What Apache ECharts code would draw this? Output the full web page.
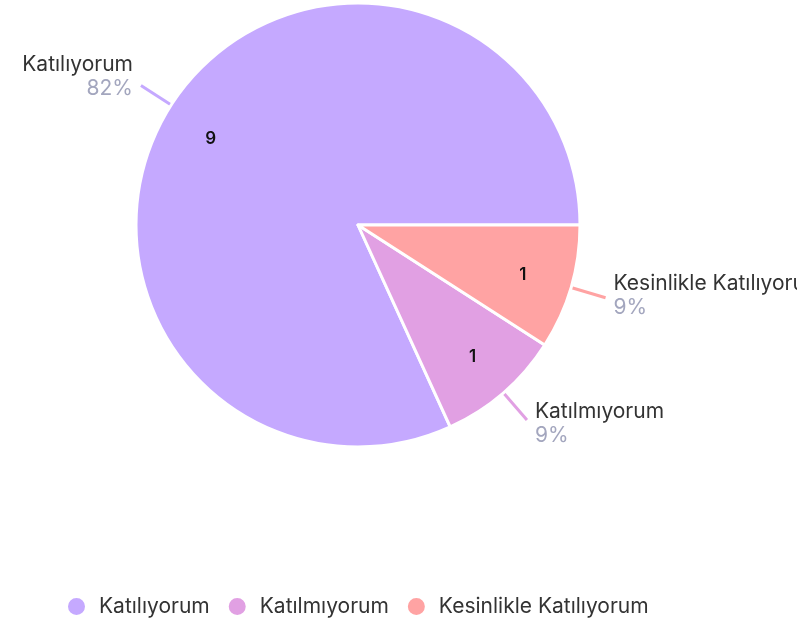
<!DOCTYPE html>
<html><head><meta charset="utf-8">
<script src="https://cdn.jsdelivr.net/npm/echarts@6/dist/echarts.min.js"></script>
<style>html,body{margin:0;padding:0;background:#fff;overflow:hidden}#c{width:797px;height:626px;overflow:hidden}</style>
</head><body><div id="c"></div>
<script>
const categories = ['Katılıyorum', 'Katılmıyorum', 'Kesinlikle Katılıyorum'];
const values = [9, 1, 1];
const colors = ['#C5A9FF', '#E1A0E3', '#FFA3A3'];

const chart = echarts.init(document.getElementById('c'), null, {renderer: 'canvas'});
const labelPads = [[0, 0, 18, 0], [8, 0, 0, 0], [0, 0, 4, 0]];
const innerOffsets = [[0, 9], [0, 0], [-3, 1]];
const data = categories.map((n, i) => ({name: n, value: values[i], itemStyle: {color: colors[i]}, label: {padding: labelPads[i]}}));
const font = 'Inter, "Open Sans", sans-serif';
chart.setOption({
  animation: false,
  legend: {
    bottom: 4, left: 61,
    icon: 'circle', itemWidth: 19, itemHeight: 19, itemGap: 17,
    textStyle: {fontFamily: font, fontSize: 21, color: '#333', padding: [0, 0, 0, 8]},
    data: categories
  },
  series: [
    {
      type: 'pie', center: [358, 225], radius: [0, 222],
      startAngle: 0, clockwise: false,
      itemStyle: {borderColor: '#fff', borderWidth: 3},
      label: {
        show: true, position: 'outside', overflow: 'none',
        formatter: p => '{n|' + p.name + '}\n{p|' + Math.round(p.percent) + '%}',
        rich: {
          n: {fontFamily: font, fontSize: 21, color: '#333', lineHeight: 24},
          p: {fontFamily: font, fontSize: 21, color: '#A3A6BE', lineHeight: 24}
        },
        distanceToLabelLine: 8
      },
      labelLine: {show: true, length: 36, length2: 0, lineStyle: {width: 3}},
      emphasis: {disabled: true},
      data: data
    },
    {
      type: 'pie', center: [358, 225], radius: [122, 222],
      startAngle: 0, clockwise: false, silent: true,
      itemStyle: {color: 'rgba(0,0,0,0)'},
      label: {show: true, position: 'inside', formatter: '{c}',
        fontFamily: font, fontSize: 17, fontWeight: 600, color: '#111'},
      labelLine: {show: false},
      emphasis: {disabled: true},
      data: categories.map((n, i) => ({name: n, value: values[i], label: {offset: innerOffsets[i]}}))
    }
  ]
});
</script></body></html>
